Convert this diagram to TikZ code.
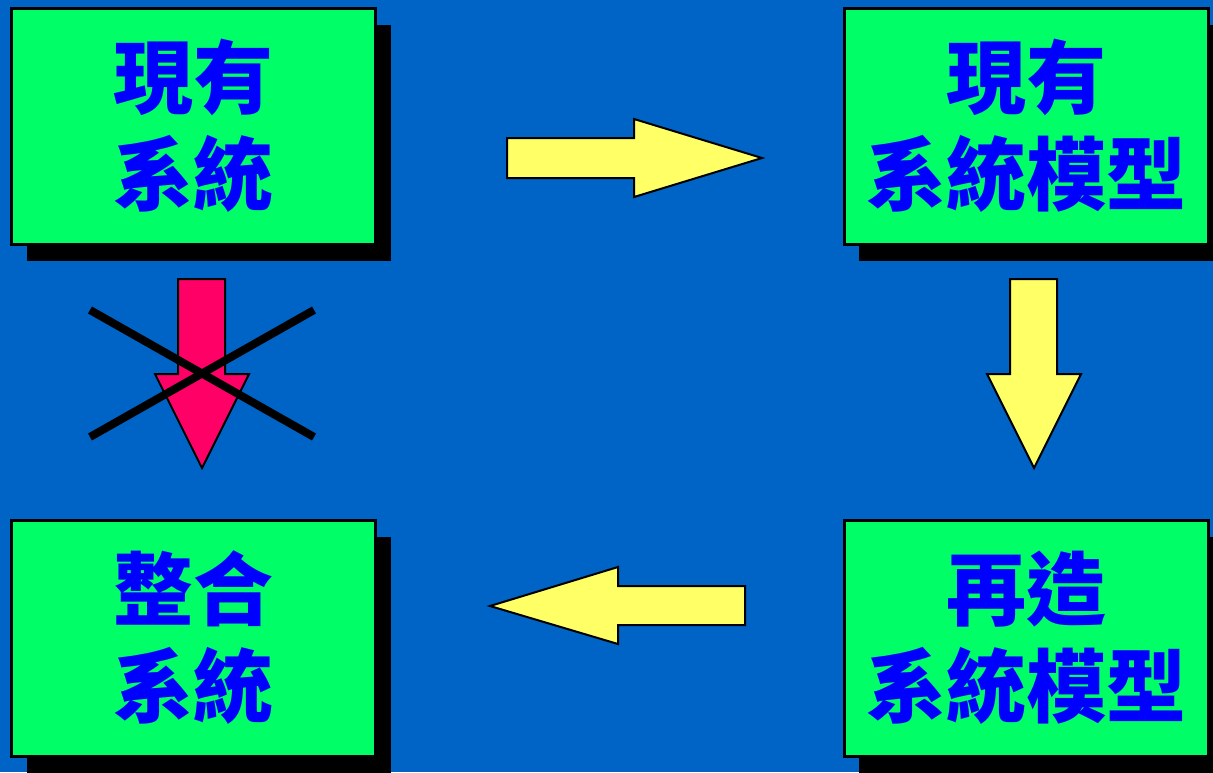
\documentclass[tikz,border=0pt]{standalone}
\usepackage{fontspec}
\newfontfamily\cjk{Noto Sans CJK TC}
\usetikzlibrary{shadows}
\definecolor{bgblue}{HTML}{0063C6}
\definecolor{boxgreen}{HTML}{00FF66}
\definecolor{txtblue}{HTML}{0000FF}
\definecolor{arrowyellow}{HTML}{FFFF66}
\definecolor{arrowred}{HTML}{FF0066}
\begin{document}
\begin{tikzpicture}[x=0.5pt,y=-0.5pt,
  sysbox/.style={draw,fill=boxgreen,line width=1.5pt,minimum width=182pt,minimum height=118pt,inner sep=0pt,
    drop shadow={shadow xshift=7.5pt,shadow yshift=-8.5pt,fill=black,opacity=1},
    text=txtblue,align=center,font=\cjk\bfseries\fontsize{40pt}{48.5pt}\selectfont,
    execute at begin node=\rule{0pt}{41pt}},
  fatarrow/.style={draw,line width=1pt,fill=arrowyellow,line join=miter}
  ]
    \fill[bgblue] (0,0) rectangle (1213,772);
    \useasboundingbox (0,0) rectangle (1213,772);

    \node[sysbox] (oldsys) at (193.5,126) {現有\\系統};
    \node[sysbox] (oldmodel) at (1026,126) {現有\\系統模型};
    \node[sysbox] (newmodel) at (1026,638) {再造\\系統模型};
    \node[sysbox] (newsys) at (193.5,638) {整合\\系統};

    % block arrows
    \draw[fatarrow] (507,138) -- (634,138) -- (634,119) -- (762,158) -- (634,197) -- (634,178) -- (507,178) -- cycle;
    \draw[fatarrow] (1010,279) -- (1057,279) -- (1057,374) -- (1081,374) -- (1034,468) -- (987,374) -- (1010,374) -- cycle;
    \draw[fatarrow] (745,586) -- (618,586) -- (618,567) -- (490,606) -- (618,644) -- (618,625) -- (745,625) -- cycle;
    \draw[fatarrow,fill=arrowred] (178,279) -- (225,279) -- (225,374) -- (249,374) -- (202,468) -- (155,374) -- (178,374) -- cycle;

    % crossed out
    \draw[line width=4pt] (90,310) -- (314,437);
    \draw[line width=4pt] (90,437) -- (314,310);
\end{tikzpicture}
\end{document}
